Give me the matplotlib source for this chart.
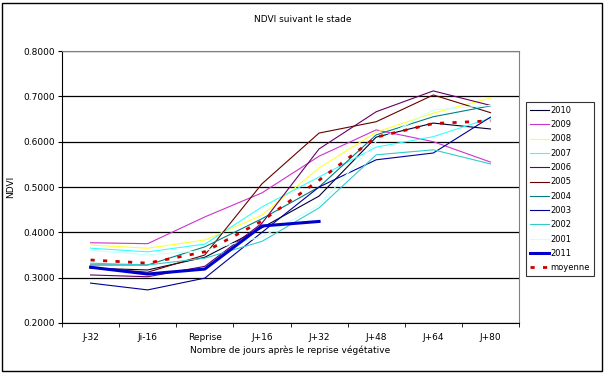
import numpy as np
import matplotlib.pyplot as plt
from matplotlib.patches import Rectangle

stades = ["J-32", "Ji-16", "Reprise", "J+16", "J+32", "J+48", "J+64", "J+80"]

ndvi_2010 = [0.321, 0.317, 0.345, 0.410, 0.480, 0.610, 0.641, 0.628]
ndvi_2009 = [0.377, 0.375, 0.434, 0.487, 0.568, 0.626, 0.600, 0.555]
ndvi_2008 = [0.372, 0.365, 0.383, 0.438, 0.542, 0.621, 0.663, 0.696]
ndvi_2007 = [0.365, 0.357, 0.374, 0.456, 0.522, 0.588, 0.611, 0.652]
ndvi_2006 = [0.306, 0.302, 0.325, 0.420, 0.584, 0.666, 0.712, 0.680]
ndvi_2005 = [0.322, 0.312, 0.350, 0.507, 0.619, 0.644, 0.703, 0.664]
ndvi_2004 = [0.328, 0.328, 0.368, 0.430, 0.500, 0.615, 0.655, 0.679]
ndvi_2003 = [0.288, 0.273, 0.299, 0.400, 0.500, 0.560, 0.575, 0.654]
ndvi_2002 = [0.332, 0.328, 0.343, 0.380, 0.454, 0.571, 0.582, 0.551]
ndvi_2001 = [0.360, 0.350, 0.360, 0.390, 0.460, 0.600, 0.670, 0.680]
ndvi_2011 = [0.323, 0.308, 0.319, 0.414, 0.424]
moyenne = [0.339, 0.332, 0.357, 0.425, 0.515, 0.610, 0.640, 0.646]

series = [
    ("2010", ndvi_2010, "#000033", 0.8),
    ("2009", ndvi_2009, "#CC33CC", 0.8),
    ("2008", ndvi_2008, "#FFFF33", 0.8),
    ("2007", ndvi_2007, "#33FFFF", 0.8),
    ("2006", ndvi_2006, "#660066", 0.8),
    ("2005", ndvi_2005, "#660000", 0.8),
    ("2004", ndvi_2004, "#008080", 0.8),
    ("2003", ndvi_2003, "#000099", 0.8),
    ("2002", ndvi_2002, "#33CCCC", 0.8),
    ("2001", ndvi_2001, "#CCFFFF", 0.8),
    ("2011", ndvi_2011, "#0000CC", 2.2),
]

fig = plt.figure(figsize=(6.05, 3.73), dpi=100)
ax = fig.add_axes([62 / 605, 50 / 373, 457 / 605, 272 / 373])

x = np.arange(len(stades))
for name, vals, col, lw in series:
    ax.plot(x[:len(vals)], vals, color=col, lw=lw, label=name)
ax.plot(x, moyenne, color="#CC0000", lw=2, ls=(0, (1.5, 3)), label="moyenne")

ax.set_xlim(-0.5, len(stades) - 0.5)
ax.set_ylim(0.2, 0.8)
ax.set_yticks(np.arange(0.2, 0.81, 0.1))
ax.set_yticklabels([f"{v:.4f}" for v in np.arange(0.2, 0.81, 0.1)], fontsize=6.5)
ax.yaxis.grid(True, color="black", lw=0.9)
ax.set_axisbelow(True)
ax.set_xticks(x)
ax.set_xticklabels(stades, fontsize=6.5)
ax.tick_params(axis="x", length=0, pad=7)
ax.set_xticks(np.arange(-0.5, len(stades)), minor=True)
ax.tick_params(axis="x", which="minor", length=3, direction="out")
ax.tick_params(axis="y", length=3, direction="out", pad=2)
for s in ["top", "right"]:
    ax.spines[s].set_color("#808080")
ax.spines["left"].set_color("black")
ax.spines["bottom"].set_color("black")

ax.set_xlabel("Nombre de jours après le reprise végétative", fontsize=6.5, labelpad=3)
ax.set_ylabel("NDVI", fontsize=6.5, labelpad=6)
fig.text(0.5, 1 - 20 / 373, "NDVI suivant le stade", ha="center", va="center", fontsize=6.5)

leg = fig.legend(loc="upper left", bbox_to_anchor=(526 / 605, 1 - 102 / 373), fontsize=6,
                 frameon=True, fancybox=False, edgecolor="black", handlelength=2.3,
                 labelspacing=0.64, borderpad=0.45, handletextpad=0.2, borderaxespad=0)
leg.get_frame().set_linewidth(0.8)

fig.patches.append(Rectangle((2 / 605, 2 / 373), 600 / 605, 368 / 373, transform=fig.transFigure,
                             fill=False, edgecolor="black", lw=1))

fig.savefig("out.png", dpi=100)
